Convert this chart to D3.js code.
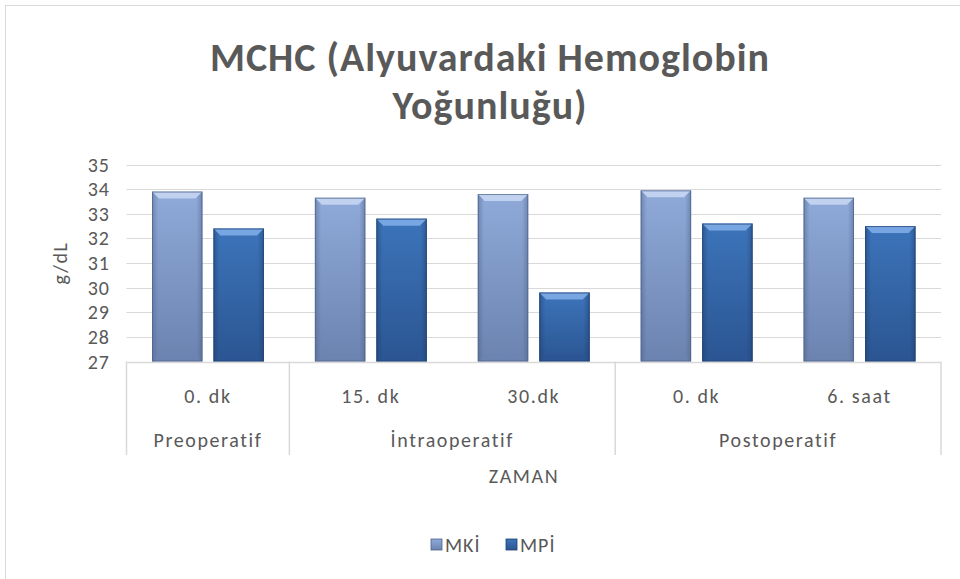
<!DOCTYPE html>
<html>
<head>
<meta charset="utf-8">
<script src="https://cdn.jsdelivr.net/npm/d3@7"></script>
<style>
  body { margin: 0; background: #fff; }
  svg { font-family: Carlito, Lato, "Open Sans", sans-serif; }
</style>
</head>
<body>
<svg id="chart" width="960" height="579"></svg>
<script>
// chart data
const periods = ['Preoperatif', 'İntraoperatif', 'Postoperatif'];
const times = ['0. dk', '15. dk', '30.dk', '0. dk', '6. saat'];
const timePeriod = [0, 1, 1, 2, 2];
const seriesNames = ['MKİ', 'MPİ'];
const mki = [33.9, 33.65, 33.8, 33.95, 33.65];
const mpi = [32.4, 32.8, 29.8, 32.6, 32.5];
const yTicks = [27, 28, 29, 30, 31, 32, 33, 34, 35];

const width = 960, height = 579;
const margin = { top: 164.5, right: 19, bottom: 216, left: 126.5 };
const textColor = '#595959';
const fs = 20;   // axis / legend font size
const ls = 1.6;  // letter spacing

const svg = d3.select('#chart');

// outer chart frame
svg.append('rect')
  .attr('x', 5.5).attr('y', 5.5)
  .attr('width', 1000).attr('height', 1000)
  .attr('fill', 'none')
  .attr('stroke', '#d9d9d9');

const x0 = d3.scaleBand()
  .domain(d3.range(times.length))
  .range([margin.left, width - margin.right]);

const x1 = d3.scaleBand()
  .domain(seriesNames)
  .range([25.5, x0.bandwidth() - 25.5])
  .paddingInner(0.18);

const y = d3.scaleLinear()
  .domain([27, 35])
  .range([height - margin.bottom - 1.5, margin.top]);

// gradients for the bevelled bars
const defs = svg.append('defs');
const palettes = {
  'MKİ': { mid: '#8faad9', dark: '#6c83b0', edge: '#4f6288', top: '#c0d2f0' },
  'MPİ': { mid: '#3c74ba', dark: '#2b5592', edge: '#1f3f6e', top: '#78a6e2' }
};
Object.entries(palettes).forEach(([k, p], i) => {
  const g = defs.append('linearGradient').attr('id', 'bar' + i)
    .attr('x1', 0).attr('y1', 0).attr('x2', 0).attr('y2', 1);
  g.append('stop').attr('offset', '0%').attr('stop-color', p.mid);
  g.append('stop').attr('offset', '100%').attr('stop-color', p.dark);
  const h = defs.append('linearGradient').attr('id', 'side' + i)
    .attr('x1', 0).attr('y1', 0).attr('x2', 1).attr('y2', 0);
  h.append('stop').attr('offset', '0%').attr('stop-color', p.edge).attr('stop-opacity', 0.5);
  h.append('stop').attr('offset', '12%').attr('stop-color', p.edge).attr('stop-opacity', 0);
  h.append('stop').attr('offset', '88%').attr('stop-color', p.edge).attr('stop-opacity', 0);
  h.append('stop').attr('offset', '100%').attr('stop-color', p.edge).attr('stop-opacity', 0.5);
});

// gridlines
svg.append('g')
  .selectAll('line')
  .data(yTicks.slice(1))
  .join('line')
  .attr('x1', margin.left).attr('x2', width - margin.right)
  .attr('y1', d => Math.round(y(d)) + 0.5).attr('y2', d => Math.round(y(d)) + 0.5)
  .attr('stroke', '#d9d9d9').attr('stroke-width', 1);

// y axis labels
svg.append('g')
  .selectAll('text')
  .data(yTicks)
  .join('text')
  .attr('x', 110)
  .attr('y', d => y(d))
  .attr('dy', '0.35em')
  .attr('text-anchor', 'end')
  .attr('font-size', fs)
  .attr('letter-spacing', 1)
  .attr('fill', textColor)
  .text(d => d);

svg.append('text')
  .attr('transform', `translate(67, ${ (y(27) + y(35)) / 2 }) rotate(-90)`)
  .attr('text-anchor', 'middle')
  .attr('font-size', fs)
  .attr('letter-spacing', ls)
  .attr('fill', textColor)
  .text('g/dL');

// bars
const rows = times.map((t, i) => ({ i, values: [mki[i], mpi[i]] }));
const groups = svg.append('g')
  .selectAll('g')
  .data(rows)
  .join('g')
  .attr('transform', d => `translate(${ x0(d.i) }, 0)`);

const bars = groups.selectAll('g')
  .data(d => d.values.map((v, s) => ({ v, s })))
  .join('g')
  .attr('transform', d => `translate(${ x1(seriesNames[d.s]) }, ${ y(d.v) })`);

bars.each(function (d) {
  const g = d3.select(this);
  const w = x1.bandwidth();
  const h = y(27) - y(d.v);
  const p = palettes[seriesNames[d.s]];
  const b = 7;
  g.append('rect').attr('width', w).attr('height', h).attr('fill', `url(#bar${ d.s })`);
  g.append('rect').attr('width', w).attr('height', h).attr('fill', `url(#side${ d.s })`);
  // top bevel
  g.append('path')
    .attr('d', `M0,0 L${ w },0 L${ w - b },${ b } L${ b },${ b } Z`)
    .attr('fill', p.top);
  g.append('path')
    .attr('d', `M0,${ h } L${ b },${ h - b } L${ w - b },${ h - b } L${ w },${ h } Z`)
    .attr('fill', p.dark).attr('opacity', 0.6);
  g.append('rect').attr('x', 0.5).attr('y', 0.5).attr('width', w - 1).attr('height', h - 1)
    .attr('fill', 'none').attr('stroke', p.edge).attr('stroke-opacity', 0.7);
});

// category axis
const axisY = y(27);
const bottomY = 455;
const axis = svg.append('g').attr('stroke', '#d9d9d9').attr('stroke-width', 1.5);
axis.append('line')
  .attr('x1', margin.left).attr('x2', width - margin.right)
  .attr('y1', axisY + 1).attr('y2', axisY + 1);
const sepIdx = [0];
timePeriod.forEach((p, i) => { if (i > 0 && p !== timePeriod[i - 1]) sepIdx.push(i); });
sepIdx.push(times.length);
const sepX = d => d < times.length ? x0(d) : x0(times.length - 1) + x0.bandwidth();
axis.selectAll('line.sep')
  .data(sepIdx)
  .join('line')
  .attr('class', 'sep')
  .attr('x1', sepX).attr('x2', sepX)
  .attr('y1', axisY).attr('y2', bottomY);

const label = (sel) => sel
  .attr('dy', '0.35em')
  .attr('text-anchor', 'middle')
  .attr('font-size', fs)
  .attr('letter-spacing', ls)
  .attr('fill', textColor);

svg.append('g')
  .selectAll('text')
  .data(times)
  .join('text')
  .attr('x', (d, i) => x0(i) + x0.bandwidth() / 2)
  .attr('y', 396)
  .call(label)
  .text(d => d);

svg.append('g')
  .selectAll('text')
  .data(periods)
  .join('text')
  .attr('x', (d, pi) => {
    const idx = d3.range(times.length).filter(i => timePeriod[i] === pi);
    return (x0(idx[0]) + x0(idx[idx.length - 1]) + x0.bandwidth()) / 2;
  })
  .attr('y', 440)
  .call(label)
  .text(d => d);

svg.append('text')
  .attr('x', 524).attr('y', 476)
  .call(label)
  .text('ZAMAN');

// title
const title = svg.append('text')
  .attr('text-anchor', 'middle')
  .attr('font-size', 40)
  .attr('font-weight', 'bold')
  .attr('letter-spacing', 1)
  .attr('fill', textColor);
title.append('tspan').attr('x', 490).attr('y', 71).text('MCHC (Alyuvardaki Hemoglobin');
title.append('tspan').attr('x', 490).attr('y', 119).text('Yoğunluğu)');

// legend
const legend = svg.append('g')
  .selectAll('g')
  .data(seriesNames)
  .join('g')
  .attr('transform', (d, i) => `translate(${ 431 + i * 75 }, 539)`);
legend.append('rect')
  .attr('width', 11).attr('height', 11)
  .attr('fill', (d, i) => `url(#bar${ i })`)
  .attr('stroke', (d, i) => palettes[d].edge).attr('stroke-width', 0.8);
legend.append('text')
  .attr('x', 14).attr('y', 6)
  .attr('dy', '0.35em')
  .attr('font-size', fs)
  .attr('letter-spacing', 1)
  .attr('fill', textColor)
  .text(d => d);
</script>
</body>
</html>
